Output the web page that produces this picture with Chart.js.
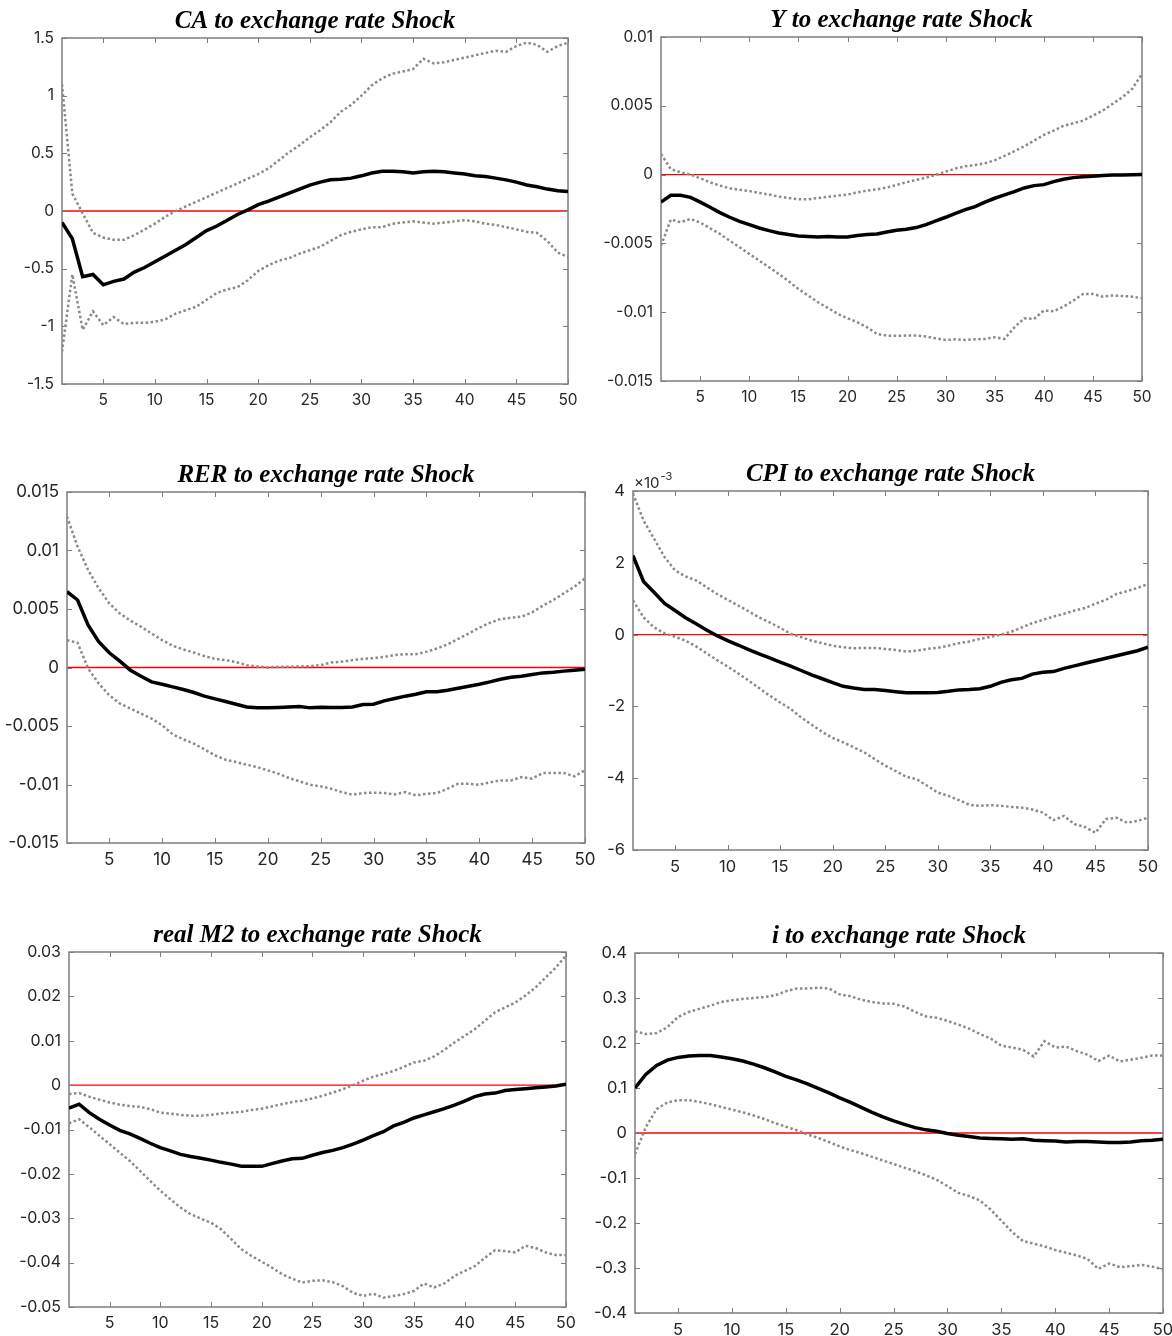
<!DOCTYPE html>
<html lang="en">
<head>
  <meta charset="UTF-8">
  <title>Responses to exchange rate Shock</title>
  <script src="https://cdn.jsdelivr.net/npm/chart.js"></script>
  <style>
    html, body { margin: 0; padding: 0; background: #fff; overflow: hidden; }
    #page { position: relative; width: 1172px; height: 1336px; overflow: hidden; }
    #page canvas { position: absolute; }
  </style>
</head>
<body>
  <div id="page"></div>

  <script>
    // horizon and axis ticks
    const periods = [1,2,3,4,5,6,7,8,9,10,11,12,13,14,15,16,17,18,19,20,21,22,23,24,25,
                     26,27,28,29,30,31,32,33,34,35,36,37,38,39,40,41,42,43,44,45,46,47,48,49,50];
    const xTicks = [5,10,15,20,25,30,35,40,45,50];

    // CA
    const caMid = [-0.10,-0.24,-0.57,-0.55,-0.64,-0.61,-0.59,-0.53,-0.49,-0.44,
                   -0.39,-0.34,-0.29,-0.23,-0.17,-0.13,-0.08,-0.03,0.01,0.055,
                   0.085,0.12,0.155,0.19,0.225,0.25,0.27,0.275,0.285,0.305,
                   0.33,0.345,0.345,0.34,0.33,0.34,0.345,0.34,0.33,0.32,
                   0.305,0.30,0.285,0.27,0.25,0.225,0.21,0.19,0.175,0.17];
    const caUp = [1.10,0.15,-0.02,-0.19,-0.23,-0.25,-0.25,-0.21,-0.16,-0.11,
                  -0.05,0.0,0.04,0.08,0.12,0.16,0.20,0.24,0.28,0.32,
                  0.37,0.44,0.51,0.57,0.64,0.70,0.77,0.86,0.92,1.0,
                  1.09,1.15,1.19,1.21,1.23,1.32,1.28,1.29,1.31,1.33,
                  1.35,1.37,1.39,1.38,1.43,1.46,1.44,1.38,1.43,1.46];
    const caLow = [-1.22,-0.55,-1.03,-0.87,-0.99,-0.92,-0.98,-0.97,-0.97,-0.96,
                   -0.94,-0.89,-0.86,-0.83,-0.77,-0.71,-0.68,-0.66,-0.60,-0.52,
                   -0.47,-0.43,-0.41,-0.37,-0.34,-0.31,-0.26,-0.21,-0.18,-0.16,
                   -0.14,-0.14,-0.11,-0.10,-0.09,-0.10,-0.11,-0.10,-0.09,-0.08,
                   -0.09,-0.11,-0.12,-0.14,-0.16,-0.18,-0.19,-0.26,-0.36,-0.40];
    const caTicks = [-1.5,-1,-0.5,0,0.5,1,1.5];

    // Y
    const yMid = [-0.0020,-0.0015,-0.0015,-0.00165,-0.0020,-0.00237,-0.00276,-0.0031,-0.0034,-0.00363,
                  -0.00388,-0.00407,-0.00424,-0.00436,-0.00446,-0.0045,-0.00453,-0.0045,-0.00453,-0.00453,
                  -0.00443,-0.00436,-0.00431,-0.00417,-0.00405,-0.00397,-0.00385,-0.00363,-0.00337,-0.0031,
                  -0.00281,-0.00254,-0.00233,-0.002,-0.00172,-0.00148,-0.00124,-0.00097,-0.0008,-0.00073,
                  -0.00051,-0.00034,-0.00022,-0.00015,-0.00012,-0.00007,-0.00003,-0.00002,-0.00001,0.00001];
    const yUp = [0.0015,0.0004,0.00017,0,-0.00027,-0.00056,-0.0008,-0.001,-0.0011,-0.0012,
                 -0.00133,-0.00145,-0.0016,-0.0017,-0.0018,-0.0018,-0.0017,-0.00162,-0.00153,-0.00145,
                 -0.0013,-0.00116,-0.00107,-0.00094,-0.00075,-0.00056,-0.00039,-0.00022,-0.00002,0.00022,
                 0.00044,0.0006,0.0007,0.00082,0.00104,0.00136,0.0017,0.00206,0.00247,0.00288,
                 0.0032,0.00354,0.00373,0.00392,0.00429,0.00465,0.00514,0.00562,0.00623,0.00732];
    const yLow = [-0.00516,-0.00327,-0.00346,-0.00322,-0.00349,-0.0039,-0.00431,-0.0048,-0.00528,-0.00577,
                  -0.00625,-0.00673,-0.00722,-0.00775,-0.00831,-0.00879,-0.00928,-0.00969,-0.01012,-0.01044,
                  -0.01073,-0.0111,-0.01158,-0.0117,-0.01172,-0.0117,-0.0117,-0.01177,-0.0119,-0.01202,
                  -0.01197,-0.01202,-0.01197,-0.01194,-0.01182,-0.01194,-0.0111,-0.01044,-0.01049,-0.00988,
                  -0.00993,-0.00959,-0.00916,-0.00867,-0.00867,-0.00887,-0.00879,-0.00882,-0.00887,-0.00899];
    const yTicks = [-0.015,-0.01,-0.005,0,0.005,0.01];

    // RER
    const rerMid = [0.00648,0.00577,0.00362,0.0022,0.00126,0.00054,-0.00023,-0.00074,-0.00123,-0.00143,
                    -0.00166,-0.00188,-0.00214,-0.00245,-0.00268,-0.00291,-0.00314,-0.00337,-0.00345,-0.00345,
                    -0.00342,-0.00337,-0.00334,-0.00345,-0.0034,-0.00342,-0.00342,-0.00337,-0.00317,-0.00314,
                    -0.00285,-0.00265,-0.00245,-0.00228,-0.00208,-0.00208,-0.00194,-0.00177,-0.0016,-0.00143,
                    -0.00123,-0.001,-0.00083,-0.00074,-0.0006,-0.00046,-0.0004,-0.00031,-0.00023,-0.00014];
    const rerUp = [0.0129,0.01033,0.00833,0.00676,0.00548,0.00462,0.004,0.00348,0.00291,0.00234,
                   0.00186,0.00154,0.00128,0.00097,0.00074,0.00063,0.00046,0.0002,0.00009,0,
                   0.00006,0.00006,0.00009,0.00011,0.0002,0.00043,0.00049,0.00063,0.00074,0.0008,
                   0.00091,0.00106,0.00114,0.00114,0.00134,0.00163,0.00197,0.00245,0.00291,0.0034,
                   0.00382,0.00414,0.00425,0.00434,0.00471,0.00528,0.00577,0.00634,0.00691,0.00762];
    const rerLow = [0.00234,0.00211,-0.00009,-0.00137,-0.00237,-0.00308,-0.00351,-0.00394,-0.00437,-0.00494,
                    -0.00571,-0.00614,-0.00651,-0.00699,-0.00751,-0.00788,-0.00808,-0.00831,-0.00851,-0.00879,
                    -0.00908,-0.00945,-0.00973,-0.01002,-0.01016,-0.01036,-0.01065,-0.01087,-0.01073,-0.0107,
                    -0.01073,-0.01085,-0.01065,-0.01093,-0.01079,-0.01073,-0.01036,-0.00993,-0.00993,-0.01002,
                    -0.00982,-0.00965,-0.00965,-0.00936,-0.0095,-0.00902,-0.00902,-0.00902,-0.0093,-0.00879];
    const rerTicks = [-0.015,-0.01,-0.005,0,0.005,0.01,0.015];

    // CPI, in units of 10^-3
    const cpiMid = [2.2,1.48,1.18,0.87,0.67,0.47,0.3,0.13,-0.03,-0.17,
                    -0.29,-0.42,-0.54,-0.65,-0.77,-0.88,-1.0,-1.12,-1.23,-1.34,
                    -1.44,-1.49,-1.53,-1.53,-1.56,-1.59,-1.62,-1.62,-1.62,-1.61,
                    -1.58,-1.54,-1.53,-1.51,-1.44,-1.33,-1.26,-1.22,-1.1,-1.05,
                    -1.03,-0.94,-0.87,-0.8,-0.73,-0.66,-0.59,-0.52,-0.45,-0.35];
    const cpiUp = [3.93,3.18,2.67,2.16,1.79,1.62,1.51,1.32,1.13,0.97,
                   0.81,0.65,0.48,0.34,0.19,0.02,-0.07,-0.17,-0.24,-0.31,
                   -0.35,-0.38,-0.37,-0.37,-0.4,-0.43,-0.47,-0.45,-0.4,-0.37,
                   -0.31,-0.24,-0.19,-0.12,-0.06,0,0.08,0.2,0.32,0.41,
                   0.5,0.58,0.67,0.74,0.86,0.97,1.13,1.21,1.3,1.41];
    const cpiLow = [0.95,0.48,0.2,0.04,-0.06,-0.17,-0.33,-0.52,-0.71,-0.89,
                    -1.08,-1.28,-1.49,-1.7,-1.89,-2.07,-2.31,-2.51,-2.71,-2.88,
                    -3.0,-3.14,-3.28,-3.47,-3.65,-3.8,-3.96,-4.03,-4.21,-4.4,
                    -4.49,-4.61,-4.74,-4.77,-4.75,-4.77,-4.8,-4.82,-4.87,-4.96,
                    -5.17,-5.05,-5.28,-5.36,-5.52,-5.14,-5.1,-5.24,-5.19,-5.1];
    const cpiTicks = [-6,-4,-2,0,2,4];

    // real M2
    const m2Mid = [-0.0052,-0.0043,-0.0062,-0.0077,-0.009,-0.0102,-0.011,-0.012,-0.0131,-0.0141,
                   -0.0148,-0.0156,-0.0161,-0.0165,-0.0169,-0.0174,-0.0178,-0.0183,-0.0183,-0.0183,
                   -0.0177,-0.0171,-0.0166,-0.0165,-0.0158,-0.0152,-0.0147,-0.0141,-0.0133,-0.0124,
                   -0.0114,-0.0105,-0.0092,-0.0084,-0.0074,-0.0067,-0.006,-0.0053,-0.0045,-0.0036,
                   -0.0026,-0.002,-0.0018,-0.0012,-0.001,-0.0008,-0.0006,-0.0004,-0.0002,0.0002];
    const m2Up = [-0.002,-0.0018,-0.0026,-0.0033,-0.0039,-0.0044,-0.0047,-0.0049,-0.0054,-0.0062,
                  -0.0064,-0.0067,-0.0069,-0.0069,-0.0067,-0.0064,-0.0062,-0.006,-0.0056,-0.0053,
                  -0.0048,-0.0043,-0.0038,-0.0035,-0.003,-0.0024,-0.0017,-0.0009,0,0.001,
                  0.0019,0.0025,0.0032,0.0041,0.0051,0.0055,0.0065,0.0079,0.0096,0.0111,
                  0.0126,0.0145,0.0164,0.0175,0.0186,0.0202,0.022,0.0243,0.0265,0.0292];
    const m2Low = [-0.0086,-0.0077,-0.0095,-0.0114,-0.0133,-0.0152,-0.0171,-0.0193,-0.0216,-0.0238,
                   -0.0257,-0.0276,-0.0291,-0.0301,-0.031,-0.0325,-0.0347,-0.037,-0.0385,-0.0398,
                   -0.0411,-0.0426,-0.0436,-0.0445,-0.0441,-0.044,-0.0444,-0.0453,-0.0468,-0.0475,
                   -0.047,-0.0479,-0.0475,-0.0471,-0.0464,-0.0447,-0.0456,-0.0447,-0.043,-0.0419,
                   -0.0408,-0.0389,-0.0372,-0.0374,-0.0377,-0.0362,-0.0367,-0.0377,-0.0383,-0.0383];
    const m2Ticks = [-0.05,-0.04,-0.03,-0.02,-0.01,0,0.01,0.02,0.03];

    // i
    const iMid = [0.1,0.13,0.15,0.162,0.168,0.171,0.172,0.172,0.169,0.165,
                  0.16,0.153,0.145,0.136,0.126,0.118,0.109,0.099,0.089,0.078,
                  0.068,0.057,0.046,0.036,0.027,0.019,0.012,0.007,0.004,-0.001,
                  -0.005,-0.008,-0.011,-0.012,-0.013,-0.014,-0.013,-0.016,-0.017,-0.018,
                  -0.02,-0.019,-0.019,-0.02,-0.021,-0.021,-0.02,-0.017,-0.016,-0.014];
    const iUp = [0.226,0.22,0.222,0.235,0.258,0.269,0.276,0.283,0.291,0.295,
                 0.298,0.3,0.302,0.306,0.315,0.321,0.321,0.323,0.321,0.308,
                 0.304,0.296,0.291,0.288,0.287,0.281,0.269,0.259,0.256,0.249,
                 0.241,0.232,0.22,0.21,0.194,0.19,0.185,0.17,0.204,0.19,
                 0.192,0.182,0.174,0.16,0.172,0.159,0.163,0.167,0.172,0.172];
    const iLow = [-0.047,0.013,0.053,0.068,0.073,0.073,0.069,0.064,0.058,0.052,
                  0.046,0.039,0.031,0.022,0.014,0.006,-0.003,-0.011,-0.02,-0.03,
                  -0.038,-0.045,-0.053,-0.061,-0.069,-0.077,-0.085,-0.094,-0.104,-0.118,
                  -0.133,-0.14,-0.15,-0.17,-0.195,-0.22,-0.24,-0.246,-0.252,-0.26,
                  -0.266,-0.272,-0.28,-0.302,-0.29,-0.298,-0.296,-0.293,-0.297,-0.303];
    const iTicks = [-0.4,-0.3,-0.2,-0.1,0,0.1,0.2,0.3,0.4];

    // plot boxes on the page: [left, top, right, bottom]; the panels were pasted at slightly different scales
    const panels = [
      { title: 'CA to exchange rate Shock',      mid: caMid,  up: caUp,  low: caLow,  ticks: caTicks,  box: [62, 38, 568, 384],    font: 15.5 },
      { title: 'Y to exchange rate Shock',       mid: yMid,   up: yUp,   low: yLow,   ticks: yTicks,   box: [661, 37, 1142, 381],  font: 15.5 },
      { title: 'RER to exchange rate Shock',     mid: rerMid, up: rerUp, low: rerLow, ticks: rerTicks, box: [67, 492, 585, 843],   font: 17 },
      { title: 'CPI to exchange rate Shock',     mid: cpiMid, up: cpiUp, low: cpiLow, ticks: cpiTicks, box: [633, 491, 1148, 850], font: 16.5, exponent: '-3' },
      { title: 'real M2 to exchange rate Shock', mid: m2Mid,  up: m2Up,  low: m2Low,  ticks: m2Ticks,  box: [69, 952, 566, 1307],  font: 16 },
      { title: 'i to exchange rate Shock',       mid: iMid,   up: iUp,   low: iLow,   ticks: iTicks,   box: [635, 953, 1163, 1313], font: 16.5 }
    ];

    const Y_W = 64, X_H = 34, PAD_T = 8, TITLE_H = 31, PAD_R = 20;
    const AXIS_GREY = '#7d7d7d';
    const SANS = 'Inter, "Liberation Sans", Arial, sans-serif';

    // matlab style box, inward ticks, red zero line, exponent note
    const framePlugin = {
      id: 'frame',
      beforeDatasetsDraw(chart, args, opts) {
        const { ctx, chartArea: a, scales: { x, y } } = chart;
        ctx.save();
        const y0 = y.getPixelForValue(0);
        ctx.strokeStyle = 'rgb(255,0,0)';
        ctx.lineWidth = 1.3;
        ctx.beginPath();
        ctx.moveTo(a.left, y0);
        ctx.lineTo(a.right, y0);
        ctx.stroke();

        ctx.strokeStyle = AXIS_GREY;
        ctx.lineWidth = 1;
        ctx.beginPath();
        x.ticks.forEach(t => {
          const px = Math.round(x.getPixelForValue(t.value)) + 0.5;
          ctx.moveTo(px, a.bottom); ctx.lineTo(px, a.bottom - 5);
          ctx.moveTo(px, a.top); ctx.lineTo(px, a.top + 5);
        });
        y.ticks.forEach(t => {
          const py = Math.round(y.getPixelForValue(t.value)) + 0.5;
          ctx.moveTo(a.left, py); ctx.lineTo(a.left + 5, py);
          ctx.moveTo(a.right, py); ctx.lineTo(a.right - 5, py);
        });
        ctx.stroke();
        ctx.lineWidth = 1.5;
        ctx.strokeRect(a.left, a.top, a.right - a.left, a.bottom - a.top);
        ctx.restore();
      },
      afterDraw(chart, args, opts) {
        if (!opts.exponent) return;
        const { ctx, chartArea: a } = chart;
        ctx.save();
        ctx.fillStyle = '#262626';
        ctx.textBaseline = 'middle';
        ctx.font = '15px ' + SANS;
        ctx.fillText('\u00d710', a.left + 1, a.top - 8);
        const w = ctx.measureText('\u00d710').width;
        ctx.font = '11px ' + SANS;
        ctx.fillText(opts.exponent, a.left + 1 + w + 1, a.top - 14);
        ctx.restore();
      }
    };

    const page = document.getElementById('page');

    panels.forEach(p => {
      const [l, t, r, b] = p.box;
      const canvas = document.createElement('canvas');
      const w = Y_W + (r - l) + PAD_R;
      const h = PAD_T + TITLE_H + (b - t) + X_H;
      canvas.width = w;
      canvas.height = h;
      canvas.style.width = w + 'px';
      canvas.style.height = h + 'px';
      canvas.style.left = (l - Y_W) + 'px';
      canvas.style.top = (t - PAD_T - TITLE_H) + 'px';
      page.appendChild(canvas);

      const pts = arr => periods.map((k, i) => ({ x: k, y: arr[i] }));
      const tickFont = { family: SANS, size: p.font };

      new Chart(canvas, {
        type: 'line',
        data: {
          datasets: [
            { data: pts(p.mid), borderColor: '#000', borderWidth: 3.5 },
            { data: pts(p.up), borderColor: '#8a8a8a', borderWidth: 2.5, borderDash: [2.5, 2.5] },
            { data: pts(p.low), borderColor: '#8a8a8a', borderWidth: 2.5, borderDash: [2.5, 2.5] }
          ]
        },
        options: {
          responsive: false,
          animation: false,
          devicePixelRatio: 1,
          events: [],
          layout: { padding: { top: PAD_T, right: PAD_R, left: 0, bottom: 0 } },
          elements: { point: { radius: 0 }, line: { tension: 0, borderCapStyle: 'butt' } },
          plugins: {
            legend: { display: false },
            tooltip: { enabled: false },
            frame: { exponent: p.exponent },
            title: {
              display: true,
              text: p.title,
              fullSize: false,
              color: '#000',
              font: { family: '"Liberation Serif", "Times New Roman", serif', size: 25, weight: 'bold', style: 'italic', lineHeight: 1.2 },
              padding: { top: 0, bottom: 1 }
            }
          },
          scales: {
            x: {
              type: 'linear',
              min: 1,
              max: 50,
              grid: { display: false, drawTicks: false },
              border: { display: false },
              afterBuildTicks: axis => { axis.ticks = xTicks.map(v => ({ value: v })); },
              afterFit: axis => { axis.height = X_H; },
              ticks: { padding: 7, color: '#262626', font: tickFont, callback: v => String(v) }
            },
            y: {
              type: 'linear',
              min: p.ticks[0],
              max: p.ticks[p.ticks.length - 1],
              grid: { display: false, drawTicks: false },
              border: { display: false },
              afterBuildTicks: axis => { axis.ticks = p.ticks.map(v => ({ value: v })); },
              afterFit: axis => { axis.width = Y_W; },
              ticks: { padding: 8, color: '#262626', font: tickFont, callback: v => String(v) }
            }
          }
        },
        plugins: [framePlugin]
      });
    });
  </script>
</body>
</html>
